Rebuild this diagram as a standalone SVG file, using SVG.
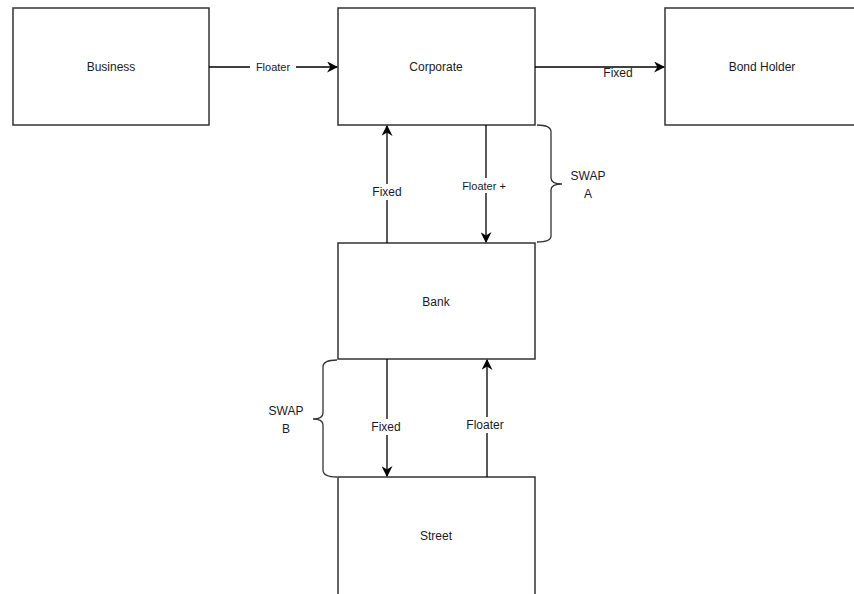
<svg xmlns="http://www.w3.org/2000/svg" width="854" height="594" viewBox="0 0 854 594">
<style>
.box{fill:#fff;stroke:#333;stroke-width:1.5}
.lbl{font-family:"Liberation Sans",Arial,sans-serif;font-size:12px;fill:#1a1a2a;text-anchor:middle;dominant-baseline:central}
.sm{font-size:11px}
.edge{stroke:#000;stroke-width:1.3;fill:none}
.bg{fill:#fff}
.brace{stroke:#333;stroke-width:1.3;fill:none}
</style>
<defs>
<marker id="arr" viewBox="0 0 10 10" refX="9" refY="5" markerWidth="11" markerHeight="11" markerUnits="userSpaceOnUse" orient="auto">
<path d="M0,0 L10,5 L0,10 L3,5 Z" fill="#000"/>
</marker>
</defs>
<rect width="854" height="594" fill="#fff"/>
<g id="business"><rect class="box" x="13" y="8" width="196" height="117"/><text class="lbl" x="111" y="67">Business</text></g>
<g id="corporate"><rect class="box" x="338" y="8" width="197" height="117"/><text class="lbl" x="436" y="67">Corporate</text></g>
<g id="bondholder"><rect class="box" x="665" y="8" width="200" height="117"/><text class="lbl" x="762" y="67">Bond Holder</text></g>
<g id="bank"><rect class="box" x="338" y="243" width="197" height="116"/><text class="lbl" x="436" y="302">Bank</text></g>
<g id="street"><rect class="box" x="338" y="477" width="197" height="130"/><text class="lbl" x="436" y="536">Street</text></g>
<g id="connectors">
<line class="edge" x1="209" y1="67" x2="337" y2="67" marker-end="url(#arr)"/>
<rect class="bg" x="250" y="60" width="46" height="14"/>
<text class="lbl sm" x="273" y="67">Floater</text>
<line class="edge" x1="535" y1="67" x2="664" y2="67" marker-end="url(#arr)"/>
<text class="lbl" x="618" y="73">Fixed</text>
<line class="edge" x1="387" y1="243" x2="387" y2="126" marker-end="url(#arr)"/>
<rect class="bg" x="369" y="184" width="36" height="16"/>
<text class="lbl" x="387" y="192">Fixed</text>
<line class="edge" x1="486" y1="125" x2="486" y2="242" marker-end="url(#arr)"/>
<rect class="bg" x="454" y="178" width="58" height="15"/>
<text class="lbl sm" x="484" y="186">Floater +</text>
<line class="edge" x1="387" y1="359" x2="387" y2="476" marker-end="url(#arr)"/>
<rect class="bg" x="369" y="419" width="36" height="16"/>
<text class="lbl" x="386" y="427">Fixed</text>
<line class="edge" x1="487" y1="477" x2="487" y2="360" marker-end="url(#arr)"/>
<rect class="bg" x="462" y="417" width="48" height="16"/>
<text class="lbl" x="485" y="425">Floater</text>
</g>
<g id="swapA">
<path class="brace" d="M537,125 Q551,125 551,132 L551,178 Q551,184 562,184 Q551,184 551,190 L551,236 Q551,242 537,242"/>
<text class="lbl" x="588" y="176">SWAP</text>
<text class="lbl" x="588" y="194">A</text>
</g>
<g id="swapB">
<path class="brace" d="M337,360 Q323,360 323,367 L323,413 Q323,419 313,419 Q323,419 323,425 L323,470 Q323,477 337,477"/>
<text class="lbl" x="286" y="411">SWAP</text>
<text class="lbl" x="286" y="429">B</text>
</g>
</svg>
